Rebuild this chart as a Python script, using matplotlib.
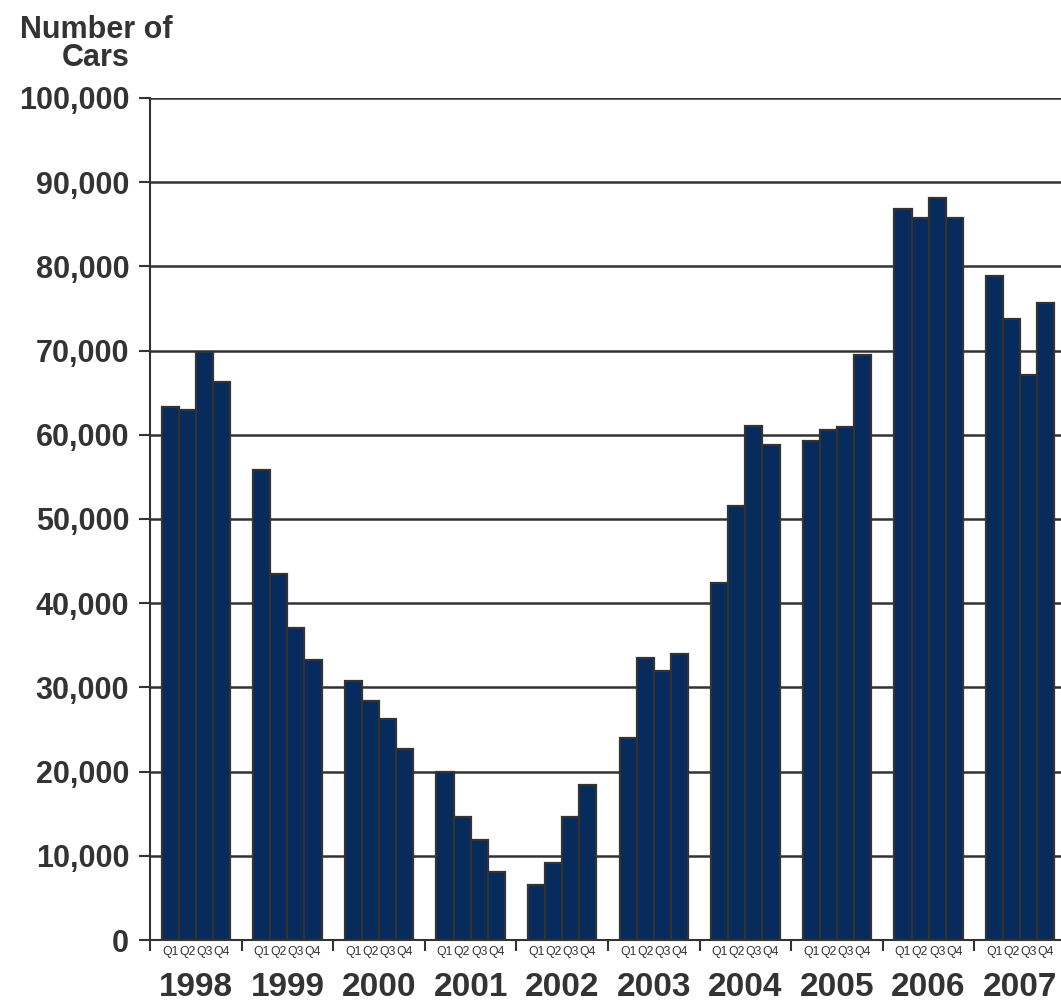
import matplotlib.pyplot as plt
import matplotlib.transforms as mtransforms
import numpy as np

plt.rcParams['font.family'] = ['Liberation Sans', 'DejaVu Sans']

years = ['1998', '1999', '2000', '2001', '2002', '2003', '2004', '2005', '2006', '2007']
quarters = ['Q1', 'Q2', 'Q3', 'Q4']
cars = [
    [63300, 63000, 69800, 66300],
    [55800, 43500, 37000, 33200],
    [30800, 28400, 26200, 22700],
    [20000, 14600, 11900, 8100],
    [6500, 9200, 14600, 18400],
    [24000, 33500, 32000, 34000],
    [42400, 51500, 61100, 58800],
    [59300, 60600, 60900, 69500],
    [86800, 85700, 88100, 85700],
    [78900, 73800, 67100, 75700],
]

text_col = '#333333'
bar_col = '#062B5C'
group_w = 5.36
pad = (group_w - 4) / 2

fig = plt.figure(figsize=(10.61, 10.01), dpi=100)
ax = fig.add_axes([150 / 1061, 61 / 1001, 916 / 1061, 842 / 1001])

xs, vals, qlabels = [], [], []
for i, yr in enumerate(years):
    for q in range(4):
        xs.append(i * group_w + pad + q + 0.5)
        vals.append(cars[i][q])
        qlabels.append(quarters[q])

ax.set_axisbelow(True)
ax.bar(xs, vals, width=1.0, color=bar_col, edgecolor=text_col, linewidth=1.6, zorder=3)

ax.set_xlim(0, group_w * len(years))
ax.set_ylim(0, 100000)

# gridlines
ax.set_yticks(np.arange(0, 100001, 10000))
ax.set_yticklabels([f'{v:,}' for v in range(0, 100001, 10000)], fontsize=22,
                   fontweight='bold', color=text_col)
ax.yaxis.grid(True, color=text_col, linewidth=1.8, zorder=0)
ax.tick_params(axis='y', direction='out', length=8, width=1.5, color=text_col, pad=7)

# boundaries between years as major ticks, quarters as minor labels
ax.set_xticks([i * group_w for i in range(len(years) + 1)])
ax.set_xticklabels([])
ax.tick_params(axis='x', which='major', direction='out', length=8, width=1.5, color=text_col)
ax.set_xticks(xs, minor=True)
ax.set_xticklabels(qlabels, minor=True, fontsize=8.8, color=text_col)
ax.tick_params(axis='x', which='minor', length=0, pad=4)

trans = mtransforms.blended_transform_factory(ax.transData, ax.transAxes)
for i, yr in enumerate(years):
    ax.text(i * group_w + group_w / 2, -0.038, yr, transform=trans, ha='center', va='top',
            fontsize=24, fontweight='bold', color=text_col)

for side in ['top', 'right']:
    ax.spines[side].set_visible(False)
for side in ['left', 'bottom']:
    ax.spines[side].set_color(text_col)
    ax.spines[side].set_linewidth(1.5)

fig.text(96 / 1061, 1 - 15 / 1001, 'Number of\nCars', ha='center', va='top', fontsize=22,
         fontweight='bold', color=text_col, linespacing=0.92)

fig.savefig('out.png', dpi=100)
